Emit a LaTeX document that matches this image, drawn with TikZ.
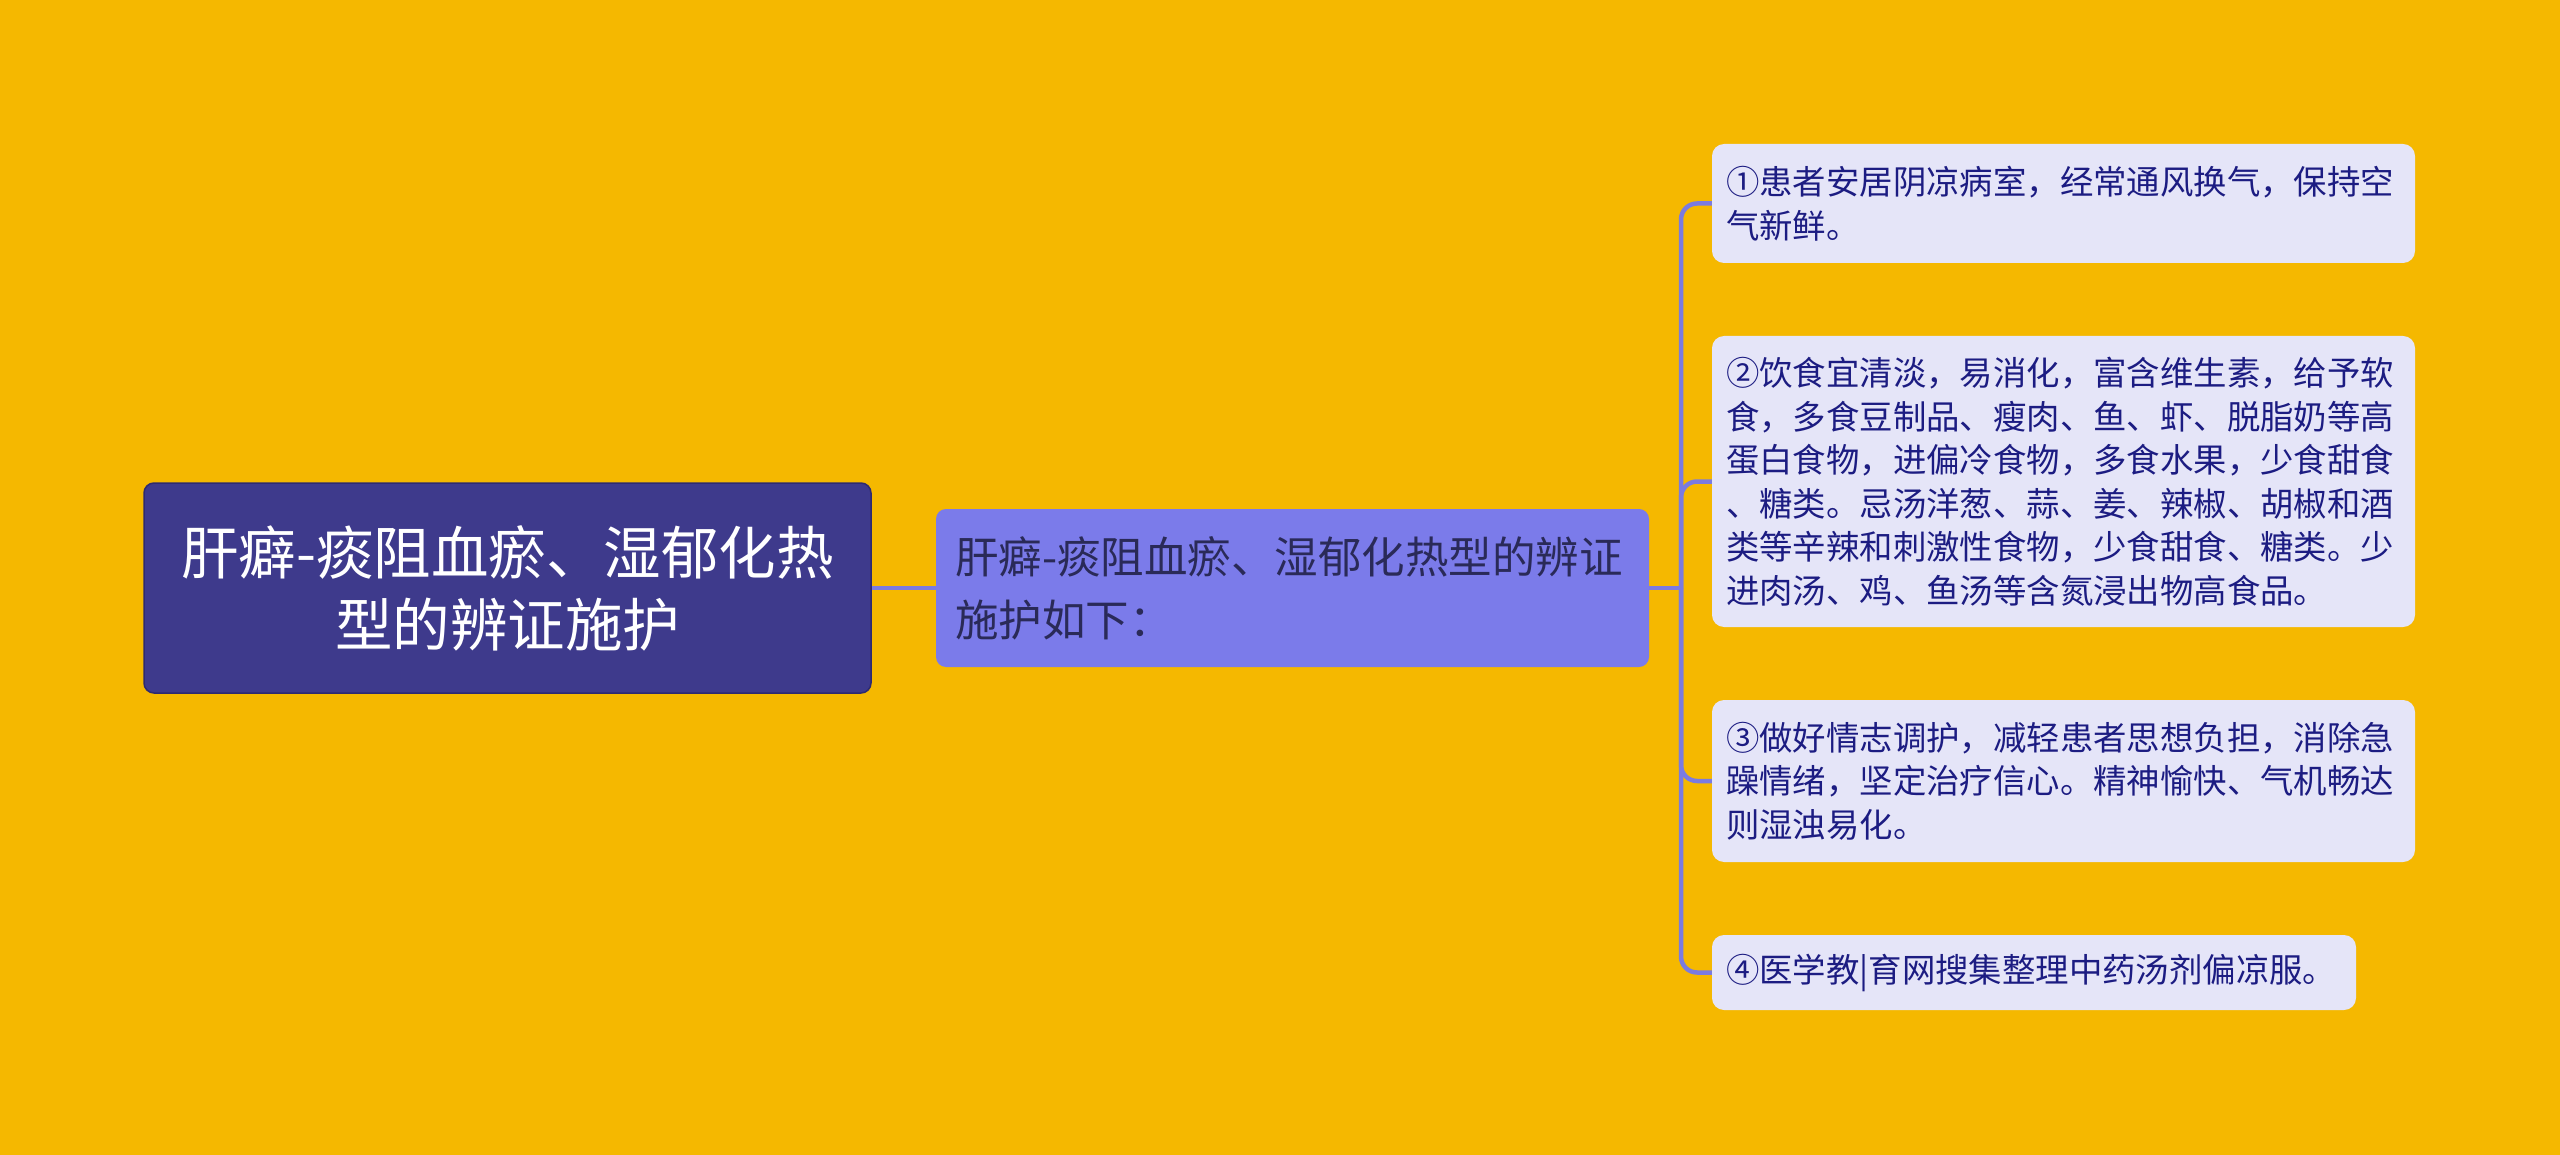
\documentclass[tikz,border=0pt]{standalone}
\usepackage{fontspec}
\setmainfont{Noto Sans CJK SC}
\definecolor{bg}{HTML}{F5B800}
\definecolor{rootfill}{HTML}{3E3A8C}
\definecolor{rootdraw}{HTML}{2E2A70}
\definecolor{midfill}{HTML}{7B7BEA}
\definecolor{midtext}{HTML}{2A2A58}
\definecolor{leaffill}{HTML}{E5E5F8}
\definecolor{leaftext}{HTML}{1C1C82}
\definecolor{linec}{HTML}{7B7BE0}
\begin{document}
\begin{tikzpicture}[x=1pt,y=-1pt,
  rootbox/.style={fill=rootfill,draw=rootdraw,line width=1.5pt,rounded corners=10pt,inner sep=0pt,
    text=white,align=center,text width=700pt,font=\fontsize{57.5}{72}\selectfont},
  midbox/.style={fill=midfill,rounded corners=10pt,inner sep=0pt,
    text=midtext,align=left,text width=675pt,font=\fontsize{43.5}{63}\selectfont},
  leafbox/.style={fill=leaffill,rounded corners=12pt,inner sep=0pt,
    text=leaftext,align=left,font=\fontsize{33.4}{43.5}\selectfont},
  conn/.style={draw=linec,line width=4.5pt,rounded corners=16pt}]
\fill[bg] (0,0) rectangle (2560,1155);
\useasboundingbox (0,0) rectangle (2560,1155);

\node[rootbox,minimum width=727pt,minimum height=210pt] (root) at (507.5,588)
  {肝癖-痰阻血瘀、湿郁化热\\型的辨证施护};
\node[midbox,minimum width=713pt,minimum height=158pt] (mid) at (1292.5,588)
  {肝癖-痰阻血瘀、湿郁化热型的辨证\\施护如下：};

\node[leafbox,text width=675pt,minimum width=703pt,minimum height=119pt] (l1) at (2063.5,203.5)
  {①患者安居阴凉病室，经常通风换气，保持空\\气新鲜。};
\node[leafbox,text width=675pt,minimum width=703pt,minimum height=291pt] (l2) at (2063.5,481.5)
  {②饮食宜清淡，易消化，富含维生素，给予软\\食，多食豆制品、瘦肉、鱼、虾、脱脂奶等高\\蛋白食物，进偏冷食物，多食水果，少食甜食\\、糖类。忌汤洋葱、蒜、姜、辣椒、胡椒和酒\\类等辛辣和刺激性食物，少食甜食、糖类。少\\进肉汤、鸡、鱼汤等含氮浸出物高食品。};
\node[leafbox,text width=675pt,minimum width=703pt,minimum height=162pt] (l3) at (2063.5,781)
  {③做好情志调护，减轻患者思想负担，消除急\\躁情绪，坚定治疗信心。精神愉快、气机畅达\\则湿浊易化。};
\node[leafbox,text width=616pt,minimum width=644pt,minimum height=75pt] (l4) at (2034,972.5)
  {④医学教|育网搜集整理中药汤剂偏凉服。};

\coordinate (tr) at (1681,588);
\draw[conn] (root.east) -- (mid.west);
\draw[conn] (mid.east) -- (tr);
\draw[conn] (tr) -- (tr |- l1.west) -- (l1.west);
\draw[conn] (tr) -- (tr |- l2.west) -- (l2.west);
\draw[conn] (tr) -- (tr |- l3.west) -- (l3.west);
\draw[conn] (tr) -- (tr |- l4.west) -- (l4.west);
\end{tikzpicture}
\end{document}
